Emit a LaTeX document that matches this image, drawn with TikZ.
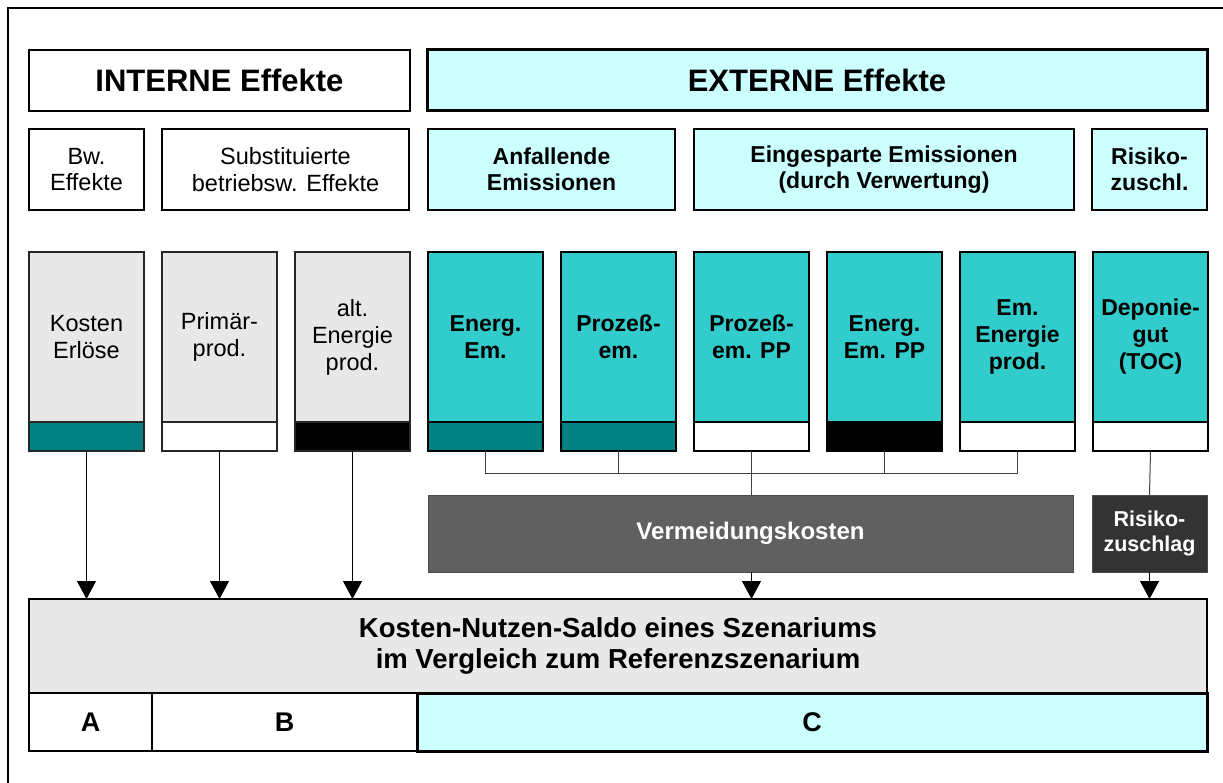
\documentclass[tikz,border=0pt]{standalone}
\usepackage{fontspec}
\setmainfont{Liberation Sans}
\usetikzlibrary{arrows.meta, positioning}

\definecolor{lightcyan}{HTML}{CCFFFF}
\definecolor{barcyan}{HTML}{33CCCC}
\definecolor{darkteal}{HTML}{008080}
\definecolor{lightgrey}{HTML}{E8E8E8}
\definecolor{midgrey}{HTML}{606060}
\definecolor{darkgrey}{HTML}{333333}

\begin{document}
\begin{tikzpicture}[
    x=1pt, y=-1pt,
    every node/.style={inner sep=0pt, outer sep=0pt, align=center},
    header/.style={
        rectangle,
        draw=black,
        line width=2pt,
        minimum height=61pt,
        font=\fontsize{31}{35}\selectfont\bfseries
    },
    group/.style={
        rectangle,
        draw=black,
        line width=1.8pt,
        minimum height=81pt,
        font=\fontsize{23.5}{26.5}\selectfont
    },
    bar/.style={
        rectangle,
        draw=black!85,
        line width=1.3pt,
        minimum width=115pt,
        minimum height=170pt,
        fill=lightgrey,
        font=\fontsize{23.5}{27}\selectfont
    },
    embar/.style={bar, fill=barcyan, draw=black, line width=1.8pt, font=\fontsize{23}{27}\selectfont\bfseries},
    strip/.style={
        rectangle,
        draw=black!85,
        line width=1.3pt,
        minimum width=115pt,
        minimum height=29pt
    },
    cost/.style={
        rectangle,
        draw=black!70,
        line width=1pt,
        minimum height=77pt,
        text=white,
        font=\bfseries
    },
    link/.style={line width=1pt, color=black!75},
    arrow/.style={link, -{Triangle[width=19pt,length=18pt]}, color=black}
]
    \useasboundingbox (0,0) rectangle (1223,783);

    % frame
    \draw [line width=2.5pt] (8,783) -- (8,8) -- (1223,8);

    % headers
    \node (intern) [header, minimum width=381pt] at (219.5,80.5) {INTERNE Effekte};
    \node (extern) [header, fill=lightcyan, line width=3pt, minimum width=780pt] at (817,80.5) {EXTERNE Effekte};

    % groups
    \node (bw) [group, minimum width=115pt] at (86.5,169.5) {Bw.\\Effekte};
    \node (subst) [group, minimum width=247pt] at (285.5,169.5) {Substituierte\\betriebsw. Effekte};
    \node (anf) [group, fill=lightcyan, minimum width=247pt, font=\fontsize{23}{26.5}\selectfont\bfseries] at (551.5,169.5) {Anfallende\\Emissionen};
    \node (eing) [group, fill=lightcyan, minimum width=380pt, font=\fontsize{23}{26.5}\selectfont\bfseries] at (884,169.5) {Eingesparte Emissionen\\(durch Verwertung)};
    \node (risk) [group, fill=lightcyan, minimum width=115pt, font=\fontsize{23}{26.5}\selectfont\bfseries] at (1149.5,169.5) {Risiko-\\zuschl.};

    % bars
    \node (kosten) [bar] at (86.5,337) {Kosten\\Erlöse};
    \node (prim) [bar, right=18pt of kosten] {Primär-\\prod.};
    \node (alt) [bar, right=18pt of prim] {alt.\\Energie\\prod.};
    \node (energ) [embar, right=18pt of alt] {Energ.\\Em.};
    \node (proz) [embar, right=18pt of energ] {Prozeß-\\em.};
    \node (prozpp) [embar, right=18pt of proz] {Prozeß-\\em. PP};
    \node (energpp) [embar, right=18pt of prozpp] {Energ.\\Em. PP};
    \node (emen) [embar, right=18pt of energpp] {Em.\\Energie\\prod.};
    \node (depo) [embar, right=18pt of emen] {Deponie-\\gut\\(TOC)};

    % strips under the bars
    \node (kosten_s) [strip, fill=darkteal, below=0pt of kosten] {};
    \node (prim_s) [strip, fill=white, below=0pt of prim] {};
    \node (alt_s) [strip, fill=black, below=0pt of alt] {};
    \node (energ_s) [strip, fill=darkteal, draw=black, line width=1.8pt, below=0pt of energ] {};
    \node (proz_s) [strip, fill=darkteal, draw=black, line width=1.8pt, below=0pt of proz] {};
    \node (prozpp_s) [strip, fill=white, draw=black, line width=1.8pt, below=0pt of prozpp] {};
    \node (energpp_s) [strip, fill=black, draw=black, line width=1.8pt, below=0pt of energpp] {};
    \node (emen_s) [strip, fill=white, draw=black, line width=1.8pt, below=0pt of emen] {};
    \node (depo_s) [strip, fill=white, draw=black, line width=1.8pt, below=0pt of depo] {};

    % cost boxes
    \node (verm) [cost, fill=midgrey, minimum width=645pt, font=\fontsize{24}{28}\selectfont\bfseries] at (750.5,533.5) {Vermeidungskosten};
    \node (zuschlag) [cost, fill=darkgrey, minimum width=115pt, font=\fontsize{21.5}{25}\selectfont\bfseries] at (1149.5,533.5) {Risiko-\\zuschlag};

    % result
    \node (saldo) [rectangle, draw=black, line width=2.5pt, fill=lightgrey, minimum width=1178pt, minimum height=94pt, font=\fontsize{27.5}{31}\selectfont\bfseries] at (618,646) {Kosten-Nutzen-Saldo eines Szenariums\\im Vergleich zum Referenzszenarium};
    \node (partA) [rectangle, draw=black, line width=1.5pt, fill=white, minimum width=123pt, minimum height=58pt, font=\fontsize{27}{30}\selectfont\bfseries] at (90.5,722) {A};
    \node (partB) [rectangle, draw=black, line width=1.5pt, fill=white, minimum width=265pt, minimum height=58pt, font=\fontsize{27}{30}\selectfont\bfseries] at (284.5,722) {B};
    \node (partC) [rectangle, draw=black, line width=3pt, fill=lightcyan, minimum width=790pt, minimum height=58pt, font=\fontsize{27}{30}\selectfont\bfseries] at (812,722) {C};

    % connections
    \draw [arrow] (kosten_s.south) -- (kosten_s.south |- saldo.north);
    \draw [arrow] (prim_s.south) -- (prim_s.south |- saldo.north);
    \draw [arrow] (alt_s.south) -- (alt_s.south |- saldo.north);

    \draw [link] (energ_s.south) -- ++(0,22) -| (emen_s.south);
    \draw [link] (proz_s.south) -- ++(0,22);
    \draw [link] (energpp_s.south) -- ++(0,22);
    \draw [link] (prozpp_s.south) -- (prozpp_s.south |- verm.north);
    \draw [arrow] (prozpp_s.south |- verm.south) -- (prozpp_s.south |- saldo.north);

    \draw [link] (depo_s.south) -- (zuschlag.north);
    \draw [arrow] (zuschlag.south) -- (zuschlag.south |- saldo.north);

\end{tikzpicture}
\end{document}
